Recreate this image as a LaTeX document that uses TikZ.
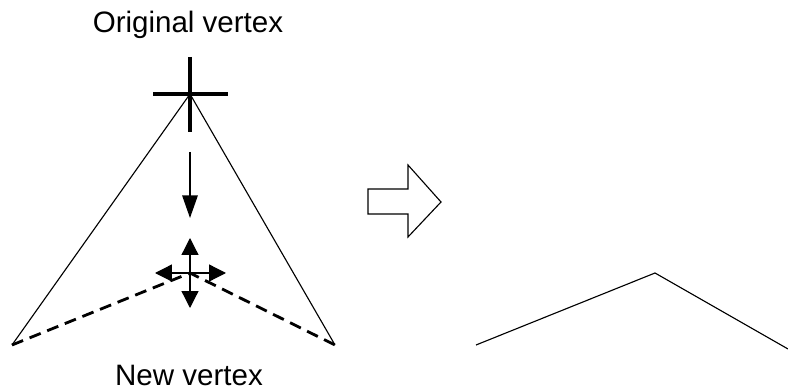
\documentclass[tikz,border=0pt]{standalone}
\usepackage{fontspec}
\setmainfont{Liberation Sans}
\usetikzlibrary{arrows.meta}

\begin{document}
\begin{tikzpicture}[x=0.025cm, y=-0.025cm,
    label/.style={font=\fontsize{21}{25}\selectfont, inner sep=0pt, anchor=base},
    edge/.style={line width=0.8pt},
    newedge/.style={line width=2pt, dash pattern=on 8.5pt off 5pt},
    marker/.style={line width=3.2pt},
    move/.style={line width=0.9pt, -{Triangle[length=16pt,width=11pt]}},
    free/.style={line width=0.9pt, {Triangle[length=12pt,width=12pt]}-{Triangle[length=12pt,width=12pt]}}
]
    \useasboundingbox (0,0) rectangle (788,392);

    % Vertices
    \coordinate (orig) at (190,94);
    \coordinate (new) at (190,273);
    \coordinate (bl) at (12,345);
    \coordinate (br) at (335,345);

    % Labels
    \node[label] (origlbl) at (188,33) {Original vertex};
    \node[label] (newlbl) at (189,385) {New vertex};

    % Original triangle
    \draw[edge] (bl) -- (orig) -- (br);

    % Cross on the original vertex
    \draw[marker] (153,94) -- (228,94);
    \draw[marker] (190,57) -- (190,132);

    % Move down
    \coordinate (mvtop) at (190,152);
    \coordinate (mvtip) at (190,218);
    \draw[move] (mvtop) -- (mvtip);

    % New edges
    \draw[newedge] (bl) -- (new) -- (br);

    % Free directions at the new vertex
    \draw[free] (190,238) -- (190,308);
    \draw[free] (155,273) -- (226,273);

    % Block arrow
    \draw[edge] (368,189) -- (408,189) -- (408,165) -- (441,202)
        -- (408,237) -- (408,214) -- (368,214) -- cycle;

    % Result
    \coordinate (rl) at (476,345);
    \coordinate (rtop) at (655,273);
    \coordinate (rr) at (788,349);
    \draw[edge] (rl) -- (rtop) -- (rr);
\end{tikzpicture}
\end{document}
